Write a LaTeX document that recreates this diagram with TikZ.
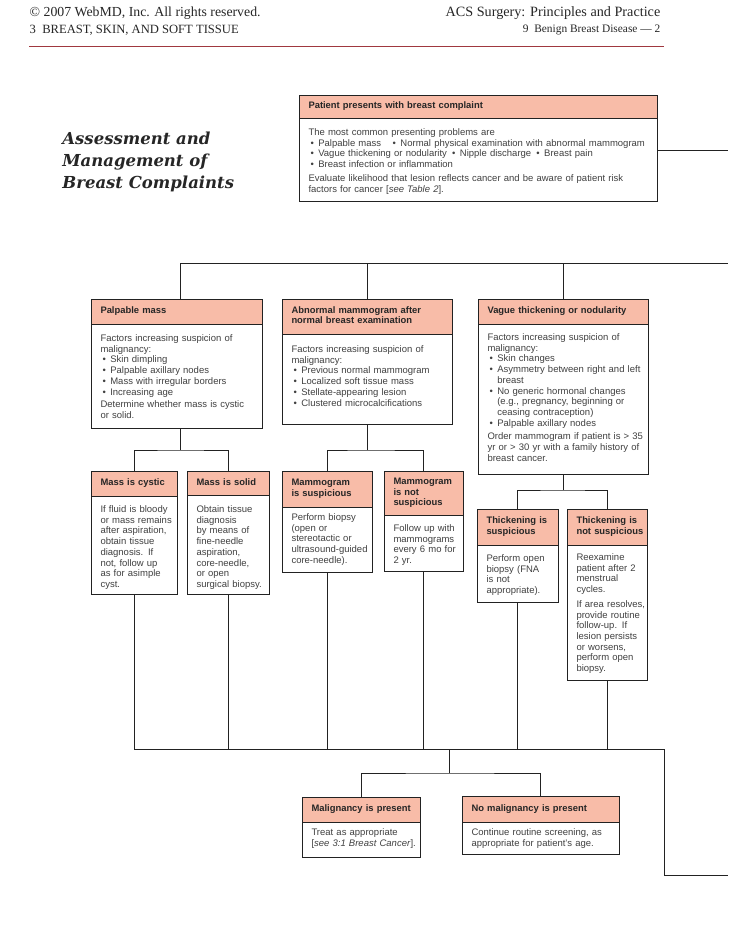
\documentclass[tikz,border=0pt]{standalone}
\usepackage{fontspec}
\setmainfont{Liberation Serif}
\newfontfamily\boxfont{Liberation Sans}
\newfontfamily\ttlfont{DejaVu Serif}
\usetikzlibrary{positioning}
\definecolor{salmon}{HTML}{F8BCA8}
\definecolor{edge}{HTML}{222222}
\definecolor{bodytext}{HTML}{414141}
\definecolor{hdtext}{HTML}{262626}
\definecolor{rulec}{HTML}{A0383F}
\newcommand{\lines}[1]{\begin{tabular}[t]{@{}l@{}}#1\end{tabular}}
\newcommand{\bul}{\hspace{2pt}\textbullet\hspace{4.5pt}}
\newcommand{\hng}{\hphantom{\bul}}
\tikzset{every picture/.style={line width=0.75pt}}
\tikzset{
  hd/.style={draw=edge, fill=salmon, anchor=north west, inner xsep=9.5pt, inner ysep=2pt, outer sep=0pt,
    text=hdtext, font=\boxfont\bfseries\fontsize{9.4}{10.3}\selectfont},
  bd/.style={draw=edge, fill=white, anchor=north, inner xsep=9.5pt, inner ysep=0pt, outer sep=0pt,
    text=bodytext, font=\boxfont\fontsize{9.5}{10.7}\selectfont},
  ln/.style={draw=edge, line width=0.8pt},
}
\begin{document}
\begin{tikzpicture}[x=1pt,y=-1pt]
\useasboundingbox (0,0) rectangle (728,942);
% ヘッダ
\node[anchor=west, font=\fontsize{13.8}{16}\selectfont, text=hdtext] (hl1) at (26,13) {© 2007 WebMD, Inc. All rights reserved.};
\node[anchor=east, font=\fontsize{14.2}{16}\selectfont, text=hdtext] (hr1) at (664,13) {ACS Surgery: Principles and Practice};
\node[anchor=west, font=\fontsize{12.6}{14}\selectfont, text=hdtext] (hl2) at (26,30) {3\enspace BREAST, SKIN, AND SOFT TISSUE};
\node[anchor=east, font=\fontsize{11.4}{14}\selectfont, text=hdtext] (hr2) at (664,30) {9\enspace Benign Breast Disease — 2};
\draw[rulec, line width=0.8pt] (hl2.south west) ++(3,8) coordinate (ra) -- (ra -| hr2.east); %罫線
% 題
\node[anchor=north west, inner sep=0pt, align=left, text=hdtext,
  font=\ttlfont\bfseries\itshape\fontsize{16.5}{22}\selectfont] (ttl) at (62,132)
  {Assessment and\\Management of\\Breast Complaints};

% 箱
\node[hd, text width=339pt, minimum height=23pt] (top) at (299,95) {\lines{Patient presents with breast complaint}};
\node[bd, text width=339pt, text height=17.5pt, text depth=65.5pt, below=0pt of top] (topb)
  {\lines{The most common presenting problems are\\
  \bul Palpable mass\quad\bul Normal physical examination with abnormal mammogram\\
  \bul Vague thickening or nodularity \bul Nipple discharge \bul Breast pain\\
  \bul Breast infection or inflammation\\[3pt]
  Evaluate likelihood that lesion reflects cancer and be aware of patient risk\\
  factors for cancer {[}\textit{see Table 2}{]}.}};

\node[hd, text width=152pt, minimum height=25pt] (pm) at (91,299) {\lines{Palpable mass}};
\node[bd, text width=152pt, text height=17.5pt, text depth=86.5pt, below=0pt of pm] (pmb)
  {\lines{Factors increasing suspicion of\\ malignancy:\\
  \bul Skin dimpling\\ \bul Palpable axillary nodes\\ \bul Mass with irregular borders\\ \bul Increasing age\\[2pt]
  Determine whether mass is cystic\\ or solid.}};

\node[hd, text width=151pt, minimum height=35pt] (am) at (282,299) {\lines{Abnormal mammogram after\\ normal breast examination}};
\node[bd, text width=151pt, text height=18.5pt, text depth=71.5pt, below=0pt of am] (amb)
  {\lines{Factors increasing suspicion of\\ malignancy:\\
  \bul Previous normal mammogram\\ \bul Localized soft tissue mass\\ \bul Stellate-appearing lesion\\ \bul Clustered microcalcifications}};

\node[hd, text width=151pt, minimum height=25pt] (vm) at (478,299) {\lines{Vague thickening or nodularity}};
\node[bd, text width=151pt, text height=16.5pt, text depth=133.5pt, below=0pt of vm] (vmb)
  {\lines{Factors increasing suspicion of\\ malignancy:\\
  \bul Skin changes\\ \bul Asymmetry between right and left\\ \hng breast\\
  \bul No generic hormonal changes\\ \hng (e.g., pregnancy, beginning or\\ \hng ceasing contraception)\\
  \bul Palpable axillary nodes\\[3pt]
  Order mammogram if patient is > 35\\ yr or > 30 yr with a family history of\\ breast cancer.}};

\node[hd, text width=67pt, minimum height=25pt] (cy) at (91,471) {\lines{Mass is cystic}};
\node[bd, text width=67pt, text height=16.5pt, text depth=81.5pt, below=0pt of cy] (cyb)
  {\lines{If fluid is bloody\\ or mass remains\\ after aspiration,\\ obtain tissue\\ diagnosis. If\\ not, follow up\\ as for asimple\\ cyst.}};

\node[hd, text width=63pt, minimum height=24pt] (so) at (187,471) {\lines{Mass is solid}};
\node[bd, text width=63pt, text height=17.5pt, text depth=81.5pt, below=0pt of so] (sob)
  {\lines{Obtain tissue\\ diagnosis\\ by means of\\ fine-needle\\ aspiration,\\ core-needle,\\ or open\\ surgical biopsy.}};

\node[hd, text width=71pt, minimum height=36pt] (ms) at (282,471) {\lines{Mammogram\\ is suspicious}};
\node[bd, text width=71pt, text height=13.5pt, text depth=51.5pt, below=0pt of ms] (msb)
  {\lines{Perform biopsy\\ (open or\\ stereotactic or\\ ultrasound-guided\\ core-needle).}};

\node[hd, text width=60pt, minimum height=44pt] (mn) at (384,471) {\lines{Mammogram\\ is not\\ suspicious}};
\node[bd, text width=60pt, text height=16.5pt, text depth=39.5pt, below=0pt of mn] (mnb)
  {\lines{Follow up with\\ mammograms\\ every 6 mo for\\ 2 yr.}};

\node[hd, text width=62pt, minimum height=36pt] (ts) at (477,509) {\lines{Thickening is\\ suspicious}};
\node[bd, text width=62pt, text height=16.5pt, text depth=40.5pt, below=0pt of ts] (tsb)
  {\lines{Perform open\\ biopsy (FNA\\ is not\\ appropriate).}};

\node[hd, text width=61pt, minimum height=36pt] (tn) at (567,509) {\lines{Thickening is\\ not suspicious}};
\node[bd, text width=61pt, text height=15.5pt, text depth=119.5pt, below=0pt of tn] (tnb)
  {\lines{Reexamine\\ patient after 2\\ menstrual\\ cycles.\\[4pt]
  If area resolves,\\ provide routine\\ follow-up. If\\ lesion persists\\ or worsens,\\ perform open\\ biopsy.}};

\node[hd, text width=99pt, minimum height=25pt] (mg) at (302,797) {\lines{Malignancy is present}};
\node[bd, text width=99pt, text height=13.5pt, text depth=21.5pt, below=0pt of mg] (mgb)
  {\lines{Treat as appropriate\\ {[}\textit{see 3:1 Breast Cancer}{]}.}};

\node[hd, text width=138pt, minimum height=26pt] (nm) at (462,796) {\lines{No malignancy is present}};
\node[bd, text width=138pt, text height=13.5pt, text depth=18.5pt, below=0pt of nm] (nmb)
  {\lines{Continue routine screening, as\\ appropriate for patient’s age.}};

% 線
\coordinate (r1) at (728,150);
\coordinate (r2) at (728,263);
\coordinate (r3) at (728,875);
\coordinate (j1) at (180,263);
\coordinate (e1) at (664,749);
\coordinate (k4) at (449,749);
\coordinate (k5) at (449,773);
\draw[ln] (topb.east |- r1) -- (r1); %右へ
\draw[ln] (pm.north -| j1) -- (j1) -- (r2);
\draw[ln] (am.north) -- (am.north |- j1);
\draw[ln] (vm.north) -- (vm.north |- j1);
\draw[ln] (pmb.south -| j1) -- ++(0,22) coordinate (k1);
\draw[ln] (cy.north) |- (k1) -| (so.north);
\draw[ln] (amb.south) -- ++(0,26) coordinate (k2);
\draw[ln] (ms.north) |- (k2) -| (mn.north);
\draw[ln] (vmb.south) -- ++(0,16) coordinate (k3);
\draw[ln] (ts.north) |- (k3) -| (tn.north);
\draw[ln] (cyb.south) |- (e1) |- (r3); %下の横線
\draw[ln] (sob.south) -- (sob.south |- e1);
\draw[ln] (msb.south) -- (msb.south |- e1);
\draw[ln] (mnb.south) -- (mnb.south |- e1);
\draw[ln] (tsb.south) -- (tsb.south |- e1);
\draw[ln] (tnb.south) -- (tnb.south |- e1);
\draw[ln] (k4) -- (k5);
\draw[ln] (mg.north) |- (k5) -| (nm.north);
\end{tikzpicture}
\end{document}
